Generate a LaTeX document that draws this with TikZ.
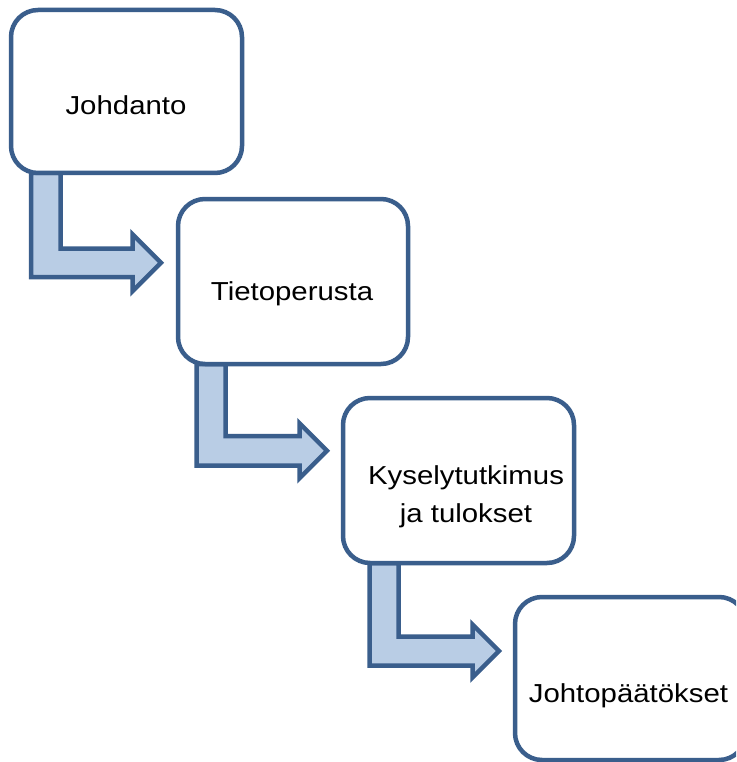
\documentclass[tikz,border=0pt]{standalone}
\usepackage{fontspec}
\setmainfont{Liberation Sans}[FakeStretch=1.13]
\definecolor{edge}{RGB}{58,94,140}
\definecolor{arrfill}{RGB}{185,205,229}
\tikzset{
  box/.style={draw=edge, line width=4.5pt, fill=white, rounded corners=27pt, inner sep=0pt},
  arr/.style={draw=edge, line width=4.5pt, fill=arrfill, line join=miter},
  lbl/.style={inner sep=0pt, anchor=base, align=center, font=\fontsize{26}{38}\selectfont}
}
% #1 left x, #2 right x, #3 top y, #4 band top y, #5 band bottom y, #6 head back x, #7 tip x
\newcommand\bentarrow[7]{%
  \pgfmathsetmacro\yc{(#4+#5)/2}%
  \pgfmathsetmacro\hh{#7-#6}%
  \draw[arr] (#1,#3) -- (#1,#5) -- (#6,#5) -- (#6,\yc+\hh) -- (#7,\yc) -- (#6,\yc-\hh) -- (#6,#4) -- (#2,#4) -- (#2,#3) -- cycle;}
\begin{document}
\begin{tikzpicture}[x=1pt,y=-1pt]
\useasboundingbox (0,0) rectangle (736,762);
\fill[white] (0,0) rectangle (736,762);
\clip (0,0) rectangle (736,762);
% arrows (behind boxes)
\bentarrow{31}{60.5}{173}{248.5}{277}{132.5}{161}
\bentarrow{196.5}{225.5}{364}{436}{465.5}{299.5}{327}
\bentarrow{369.5}{398.5}{563}{636.5}{665.5}{472.5}{499}
% boxes
\node[box, minimum width=231pt, minimum height=163pt] (b1) at (126.5,91.5) {};
\node[box, minimum width=230pt, minimum height=165pt] (b2) at (293,281.5) {};
\node[box, minimum width=231pt, minimum height=165pt] (b3) at (458.5,480.5) {};
\node[box, minimum width=231pt, minimum height=163pt] (b4) at (630.5,678.5) {};
% labels
\node[lbl] (t1) at (126,115) {Johdanto};
\node[lbl] (t2) at (292,300) {Tietoperusta};
\node[lbl] (t3) at (466,522) {Kyselytutkimus\\ja tulokset};
\node[lbl] (t4) at (628.5,702) {Johtopäätökset};
\end{tikzpicture}
\end{document}
